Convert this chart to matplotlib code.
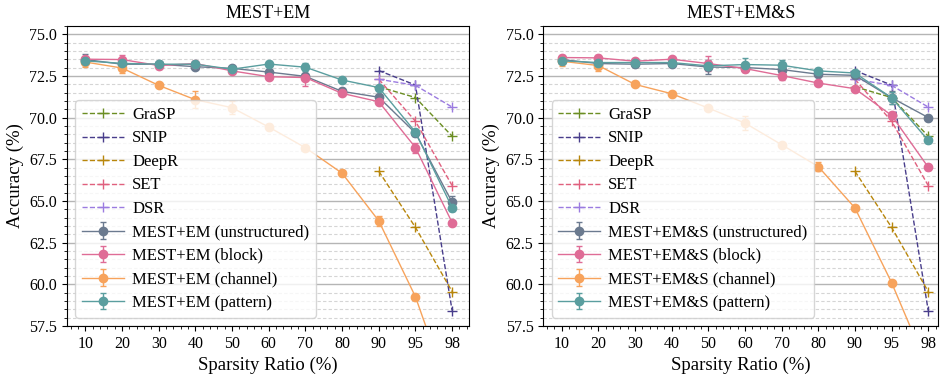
import matplotlib
matplotlib.use('Agg')
import matplotlib.pyplot as plt
from matplotlib.ticker import AutoMinorLocator, MultipleLocator
import numpy as np

plt.rcParams['font.family'] = ['Liberation Serif', 'DejaVu Serif']

sparsity = ['10', '20', '30', '40', '50', '60', '70', '80', '90', '95', '98']
base_idx = [8, 9, 10]

# baselines (90, 95, 98)
grasp = [71.85, 71.2, 68.88]
snip = [72.82, 71.95, 58.42]
deepr = [66.78, 63.41, 59.56]
set_ = [72.3, 69.78, 65.92]
dsr = [72.3, 71.93, 70.63]

# MEST+EM
em_unstructured = [73.48, 73.2, 73.2, 73.05, 72.95, 72.73, 72.47, 71.57, 71.22, 69.07, 64.92]
em_block = [73.5, 73.48, 73.12, 73.24, 72.8, 72.45, 72.4, 71.45, 70.95, 68.2, 63.7]
em_channel = [73.33, 72.97, 71.93, 71.07, 70.59, 69.43, 68.19, 66.66, 63.8, 59.25, 53.0]
em_pattern = [73.4, 73.25, 73.2, 73.2, 72.9, 73.21, 73.02, 72.25, 71.8, 69.13, 64.6]
em_unstructured_err = [0.35, 0.1, 0.15, 0.1, 0.1, 0.1, 0.1, 0.1, 0.15, 0.15, 0.4]
em_block_err = [0.15, 0.3, 0.2, 0.15, 0.1, 0.15, 0.5, 0.1, 0.15, 0.3, 0.1]
em_channel_err = [0.3, 0.3, 0.1, 0.5, 0.4, 0.2, 0.1, 0.1, 0.3, 0.1, 0.1]
em_pattern_err = [0.1, 0.1, 0.1, 0.1, 0.1, 0.2, 0.25, 0.1, 0.1, 0.15, 0.2]

# MEST+EM&S
ems_unstructured = [73.48, 73.24, 73.2, 73.24, 73.03, 73.0, 72.88, 72.6, 72.53, 71.19, 70.0]
ems_block = [73.6, 73.58, 73.38, 73.5, 73.24, 72.94, 72.52, 72.07, 71.73, 70.13, 67.02]
ems_channel = [73.38, 73.12, 71.99, 71.43, 70.57, 69.67, 68.37, 67.06, 64.58, 60.1, 54.9]
ems_pattern = [73.4, 73.3, 73.3, 73.3, 73.1, 73.18, 73.14, 72.8, 72.67, 71.19, 68.63]
ems_unstructured_err = [0.1, 0.15, 0.15, 0.2, 0.4, 0.15, 0.15, 0.1, 0.1, 0.4, 0.1]
ems_block_err = [0.15, 0.15, 0.15, 0.15, 0.45, 0.2, 0.25, 0.1, 0.1, 0.2, 0.15]
ems_channel_err = [0.3, 0.3, 0.1, 0.1, 0.1, 0.4, 0.1, 0.25, 0.1, 0.1, 0.1]
ems_pattern_err = [0.1, 0.1, 0.1, 0.1, 0.1, 0.4, 0.3, 0.1, 0.15, 0.35, 0.15]

base_styles = [('GraSP', grasp, '#6b8e23'), ('SNIP', snip, '#483d8b'),
               ('DeepR', deepr, '#b8860b'), ('SET', set_, '#e0607e'),
               ('DSR', dsr, '#9b7be0')]
colors = ['#6b7a8f', '#df6c96', '#f7a35c', '#5a9e9f']
kinds = ['unstructured', 'block', 'channel', 'pattern']

fig = plt.figure(figsize=(9.4, 3.75), dpi=100)
ax1 = fig.add_axes([0.0713, 0.131, 0.428, 0.8])
ax2 = fig.add_axes([0.578, 0.131, 0.42, 0.8])

x = np.arange(len(sparsity))
panels = [(ax1, 'MEST+EM', [em_unstructured, em_block, em_channel, em_pattern],
           [em_unstructured_err, em_block_err, em_channel_err, em_pattern_err], 10.47),
          (ax2, 'MEST+EM&S', [ems_unstructured, ems_block, ems_channel, ems_pattern],
           [ems_unstructured_err, ems_block_err, ems_channel_err, ems_pattern_err], 10.27)]

for ax, name, series, errs, xr in panels:
    for lab, vals, c in base_styles:
        ax.plot(base_idx, vals, '--', marker='+', color=c, lw=1, ms=7, label=lab)
    for kind, vals, err, c in zip(kinds, series, errs, colors):
        ax.errorbar(x, vals, yerr=err, fmt='-o', color=c, lw=1, ms=6,
                    elinewidth=1, capsize=2, label='%s (%s)' % (name, kind))
    ax.set_xticks(x)
    ax.set_xticklabels(sparsity)
    ax.xaxis.set_minor_locator(AutoMinorLocator(5))
    ax.yaxis.set_major_locator(MultipleLocator(2.5))
    ax.yaxis.set_minor_locator(MultipleLocator(0.5))
    ax.set_ylim(57.5, 75.5)
    ax.set_xlim(-0.5, xr)
    ax.grid(which='major', axis='y', color='#b5b5b5', lw=1)
    ax.grid(which='minor', axis='y', color='#d5d5d5', lw=0.8, ls=(0, (3, 2)))
    ax.set_axisbelow(True)
    ax.tick_params(labelsize=11.5)
    ax.set_title(name, fontsize=13)
    ax.set_xlabel('Sparsity Ratio (%)', fontsize=13.5)
    ax.set_ylabel('Accuracy (%)', fontsize=13.5)
    ax.legend(loc='lower left', fontsize=12, labelspacing=0.45,
              handlelength=2.5, handletextpad=0.5)

fig.savefig('out.png', dpi=100)
